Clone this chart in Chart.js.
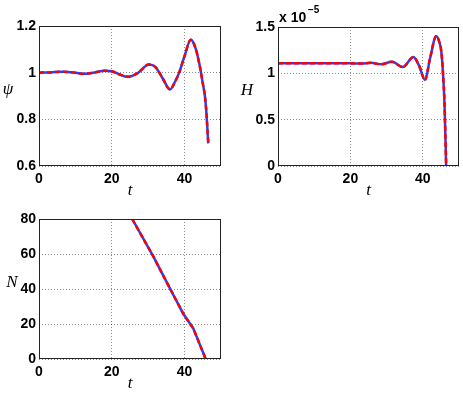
<!DOCTYPE html>
<html>
<head>
<meta charset="utf-8">
<script src="https://cdn.jsdelivr.net/npm/chart.js@4/dist/chart.umd.min.js"></script>
<style>
  body { margin: 0; background: #fff; }
  #wrap { position: relative; width: 463px; height: 393px; overflow: hidden; }
  canvas { position: absolute; }
</style>
</head>
<body>
<div id="wrap">
  <canvas id="psiChart" style="left:0;top:0" width="231" height="200"></canvas>
  <canvas id="hChart" style="left:231px;top:0" width="232" height="200"></canvas>
  <canvas id="nChart" style="left:0;top:200px" width="231" height="193"></canvas>
</div>
<script>
// psi(t)
const tPsi = [0, 3, 6.5, 9.5, 12, 15, 18, 20, 22, 24.5, 27, 30.2, 32, 34, 36, 37.4, 38.5, 40, 41.7, 43, 44.2, 45, 45.6, 46, 46.5];
const psiVals = [1.000, 1.001, 1.004, 1.001, 0.995, 1.000, 1.008, 1.006, 0.993, 0.982, 0.997, 1.035, 1.024, 0.975, 0.928, 0.962, 1.0, 1.072, 1.141, 1.105, 1.026, 0.954, 0.897, 0.826, 0.697];

// H(t), in units of 1e-5
const tH = [0, 10, 20, 23, 25.7, 28.5, 31.5, 34.5, 37.4, 39, 40.6, 42, 43.7, 44.5, 45.1, 45.6, 46.0, 46.45];
const hVals = [1.108, 1.108, 1.108, 1.106, 1.113, 1.097, 1.125, 1.068, 1.175, 1.08, 0.929, 1.16, 1.40, 1.346, 1.24, 0.99, 0.668, 0.0];

// N(t)
const tN = [25.6, 31.4, 35, 39.6, 42.4, 45.8];
const nVals = [80, 58.6, 44.2, 26, 17.4, 0];

// axis ticks
const tTicks = [0, 20, 40];
const psiTicks = [0.6, 0.8, 1, 1.2];
const hTicks = [0, 0.5, 1, 1.5];
const nTicks = [0, 20, 40, 60, 80];

const BLUE = 'rgb(35,65,255)';
const RED = 'rgb(255,0,0)';
const tickFont = { family: '"Liberation Sans", Arial, sans-serif', size: 14, weight: 'bold' };

function pairs(xs, ys) {
    return xs.map((x, i) => ({ x: x, y: ys[i] }));
}

// box + axis titles drawn here, dotted grid comes from Chart.js
function decorPlugin(yTitle, yTitleDx, extra) {
    return {
        id: 'decor',
        afterDraw(chart) {
            const a = chart.chartArea;
            const ctx = chart.ctx;
            ctx.save();
            ctx.strokeStyle = '#222';
            ctx.lineWidth = 1;
            ctx.strokeRect(Math.round(a.left) + 0.5, Math.round(a.top) + 0.5,
                Math.round(a.right - a.left) - 1, Math.round(a.bottom - a.top) - 1);

            ctx.fillStyle = '#000';
            ctx.textAlign = 'center';
            ctx.textBaseline = 'middle';
            ctx.font = 'italic 17px "Liberation Serif", "DejaVu Serif", serif';
            ctx.fillText('t', (a.left + a.right) / 2, a.bottom + 25);
            ctx.fillText(yTitle, a.left + yTitleDx, (a.top + a.bottom) / 2 - 6);
            if (extra) extra(ctx, a);
            ctx.restore();
        }
    };
}

function makeChart(id, box, xs, ys, yMin, yMax, yTicks, yTitle, yTitleDx, smooth, extra) {
    const cv = document.getElementById(id);
    const data = pairs(xs, ys);
    const gridOpts = { color: 'rgba(0,0,0,0.45)', lineWidth: 1, drawTicks: false };
    const borderOpts = { display: false, dash: [1, 2] };
    return new Chart(cv.getContext('2d'), {
        type: 'line',
        data: {
            datasets: [{
                data: data,
                borderColor: RED,
                borderWidth: 2.5,
                borderDash: [5, 3],
                pointRadius: 0,
                cubicInterpolationMode: smooth ? 'monotone' : 'default',
                tension: 0
            }, {
                data: data,
                borderColor: BLUE,
                borderWidth: 2.5,
                pointRadius: 0,
                cubicInterpolationMode: smooth ? 'monotone' : 'default',
                tension: 0
            }]
        },
        options: {
            responsive: false,
            animation: false,
            layout: { padding: { top: box.top, right: cv.width - box.right, left: 0, bottom: 0 } },
            plugins: { legend: { display: false }, tooltip: { enabled: false } },
            scales: {
                x: {
                    type: 'linear', min: 0, max: 50,
                    afterBuildTicks: s => { s.ticks = tTicks.map(v => ({ value: v })); },
                    afterFit: s => { s.height = cv.height - box.bottom; },
                    border: borderOpts,
                    grid: gridOpts,
                    ticks: { font: tickFont, color: '#000', padding: 5, maxRotation: 0, autoSkip: false,
                        callback: v => String(v) }
                },
                y: {
                    type: 'linear', min: yMin, max: yMax,
                    afterBuildTicks: s => { s.ticks = yTicks.map(v => ({ value: v })); },
                    afterFit: s => { s.width = box.left; },
                    border: borderOpts,
                    grid: gridOpts,
                    ticks: { font: tickFont, color: '#000', padding: 3, autoSkip: false,
                        callback: v => String(v) }
                }
            }
        },
        plugins: [decorPlugin(yTitle, yTitleDx, extra)]
    });
}

makeChart('psiChart', { left: 39, top: 26, right: 221, bottom: 166 },
    tPsi, psiVals, 0.6, 1.2, psiTicks, '\u03C8', -31, true);

makeChart('hChart', { left: 47, top: 27, right: 228, bottom: 166 },
    tH, hVals, 0, 1.5, hTicks, 'H', -31, true, (ctx, a) => {
        ctx.textAlign = 'left';
        ctx.textBaseline = 'alphabetic';
        ctx.font = 'bold 14px "Liberation Sans", Arial, sans-serif';
        ctx.fillText('x 10', a.left + 1, 22);
        ctx.font = 'bold 10px "Liberation Sans", Arial, sans-serif';
        ctx.fillText('\u22125', a.left + 30, 13);
    });

makeChart('nChart', { left: 39, top: 19, right: 221, bottom: 159 },
    tN, nVals, 0, 80, nTicks, 'N', -27, false);
</script>
</body>
</html>
